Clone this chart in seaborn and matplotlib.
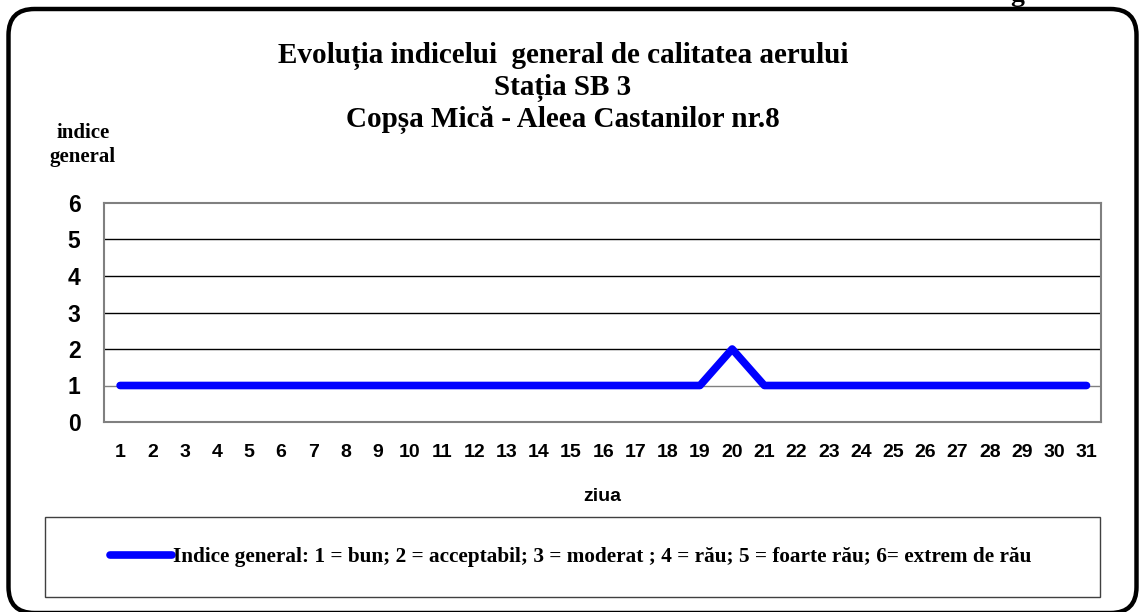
import matplotlib
matplotlib.use("Agg")
import matplotlib.pyplot as plt
import seaborn as sns
import pandas as pd
from matplotlib.patches import FancyBboxPatch, Rectangle
from matplotlib.lines import Line2D

zile = list(range(1, 32))
indice_general = [1] * 19 + [2] + [1] * 11

titlu = "Evoluția indicelui  general de calitatea aerului\nStația SB 3\nCopșa Mică - Aleea Castanilor nr.8"
eticheta_y = "indice\ngeneral"
eticheta_x = "ziua"
text_legenda = ("Indice general: 1 = bun; 2 = acceptabil; 3 = moderat ; 4 = rău; "
                "5 = foarte rău; 6= extrem de rău")

SERIF = ["Liberation Serif", "DejaVu Serif"]
SANS = ["Liberation Sans", "DejaVu Sans"]

sns.set_style("white")
plt.rcParams["font.family"] = SANS
plt.rcParams["text.color"] = "black"
plt.rcParams["axes.labelcolor"] = "black"
plt.rcParams["xtick.color"] = "black"
plt.rcParams["ytick.color"] = "black"

W, H = 1139, 612
fig = plt.figure(figsize=(W / 100, H / 100), dpi=100)

# fundal cu chenar rotunjit, in pixeli
fundal = fig.add_axes([0, 0, 1, 1], zorder=0)
fundal.set_xlim(0, W)
fundal.set_ylim(H, 0)
fundal.axis("off")
fundal.add_patch(FancyBboxPatch((8.5, 9), 1128, 604,
                                boxstyle="round,pad=0,rounding_size=26",
                                fill=False, edgecolor="black", linewidth=3.2))
fundal.add_patch(Rectangle((45, 517), 1055, 80, fill=False,
                           edgecolor="#404040", linewidth=1.0))
fundal.text(1017, 1, "g", fontsize=20, fontweight="bold", family=SERIF,
            ha="center", va="baseline")
fundal.text(563, 88, titlu, fontsize=21, fontweight="bold", family=SERIF,
            ha="center", va="center", linespacing=1.2)
fundal.text(83, 145, eticheta_y, fontsize=15, fontweight="bold", family=SERIF,
            ha="center", va="center", linespacing=1.22)

ax = fig.add_axes([104 / W, 1 - 422 / H, (1101 - 104) / W, (422 - 203) / H], zorder=1)
ax.set_facecolor("white")

df = pd.DataFrame({"ziua": zile, "indice": indice_general})

for nivel in [1, 2, 3, 4, 5]:
    ax.axhline(nivel, color="#808080" if nivel == 1 else "black", linewidth=1.0, zorder=1)

sns.lineplot(data=df, x="ziua", y="indice", ax=ax, color="#0000FF",
             linewidth=5.5, solid_capstyle="round", zorder=3)

ax.set_xlim(0.5, 31.45)
ax.set_ylim(0, 6)
ax.set_xticks(zile)
ax.set_yticks(range(0, 7))
ax.tick_params(axis="x", length=0, pad=16, labelsize=14)
ax.tick_params(axis="y", length=0, pad=17, labelsize=16.5)
for lab in ax.get_xticklabels() + ax.get_yticklabels():
    lab.set_fontweight("bold")
ax.set_xlabel(eticheta_x, fontsize=14, fontweight="bold", labelpad=19)
ax.set_ylabel("")
for sp in ax.spines.values():
    sp.set_color("#808080")
    sp.set_linewidth(1.5)

handle = Line2D([], [], color="#0000FF", linewidth=5.5, solid_capstyle="round")
fig.legend([handle], [text_legenda], loc="center",
           bbox_to_anchor=(571 / W, 1 - 557 / H), frameon=False,
           handlelength=2.9, handletextpad=0.05,
           prop={"family": SERIF, "weight": "bold", "size": 15.3})

plt.savefig("out.png", dpi=100)
